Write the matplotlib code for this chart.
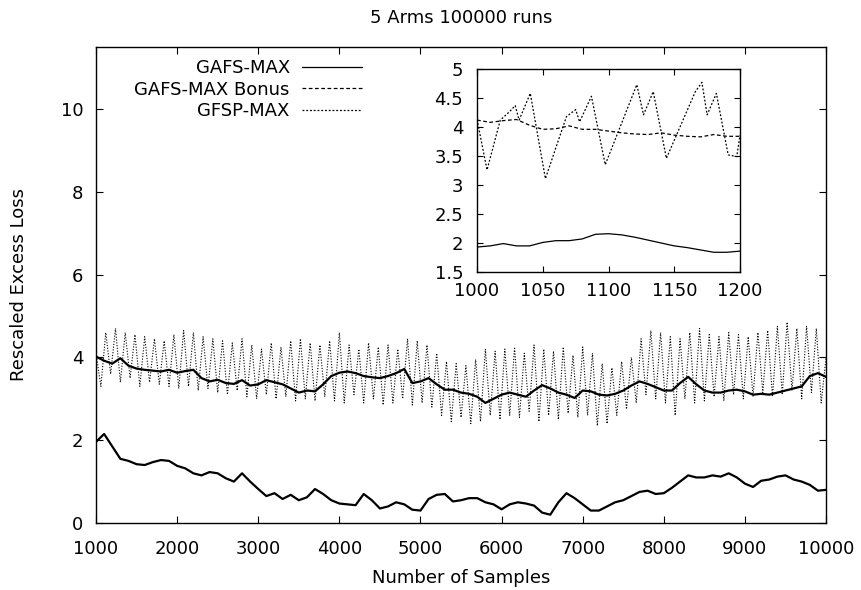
import numpy as np
import matplotlib
matplotlib.use("Agg")
import matplotlib.pyplot as plt

plt.rcParams.update({
    "font.family": ["DejaVu Sans"],
    "font.size": 13,
    "axes.linewidth": 1.0,
})

# ---- main plot data ----
samples = np.arange(1000, 10001, 100)
gafs_max = [1.96, 2.15, 1.85, 1.55, 1.50, 1.42, 1.40, 1.47, 1.52, 1.50,
            1.38, 1.32, 1.20, 1.15, 1.23, 1.20, 1.08, 1.00, 1.20, 1.00,
            0.82, 0.65, 0.72, 0.58, 0.68, 0.55, 0.62, 0.82, 0.70, 0.55,
            0.47, 0.45, 0.43, 0.70, 0.55, 0.35, 0.40, 0.50, 0.45, 0.32,
            0.30, 0.58, 0.68, 0.70, 0.52, 0.55, 0.60, 0.60, 0.50, 0.45,
            0.33, 0.45, 0.50, 0.47, 0.42, 0.25, 0.20, 0.50, 0.72, 0.60,
            0.45, 0.30, 0.30, 0.40, 0.50, 0.55, 0.65, 0.75, 0.78, 0.70,
            0.72, 0.85, 1.00, 1.15, 1.10, 1.10, 1.15, 1.12, 1.20, 1.10,
            0.95, 0.87, 1.02, 1.05, 1.12, 1.15, 1.05, 1.00, 0.92, 0.78,
            0.80]
gafs_bonus = [4.02, 3.92, 3.85, 3.98, 3.80, 3.73, 3.70, 3.68, 3.66, 3.70,
              3.63, 3.67, 3.70, 3.50, 3.42, 3.46, 3.38, 3.36, 3.45, 3.32,
              3.35, 3.45, 3.40, 3.35, 3.25, 3.15, 3.20, 3.18, 3.35, 3.55,
              3.63, 3.66, 3.62, 3.55, 3.52, 3.50, 3.55, 3.62, 3.72, 3.38,
              3.42, 3.50, 3.35, 3.22, 3.22, 3.15, 3.12, 3.05, 2.90, 3.00,
              3.10, 3.15, 3.10, 3.05, 3.20, 3.33, 3.25, 3.15, 3.10, 3.02,
              3.20, 3.18, 3.10, 3.08, 3.12, 3.20, 3.32, 3.42, 3.36, 3.28,
              3.20, 3.20, 3.38, 3.53, 3.35, 3.20, 3.15, 3.15, 3.20, 3.22,
              3.18, 3.10, 3.12, 3.10, 3.15, 3.20, 3.25, 3.30, 3.55, 3.62,
              3.53]

gfsp_samples = np.arange(1000, 10001, 60)
gfsp_max = [4.10, 3.30, 4.60, 3.60, 4.70, 3.40, 4.60, 3.50, 4.55, 3.30,
            4.50, 3.40, 4.45, 3.35, 4.40, 3.30, 4.55, 3.25, 4.65, 3.30,
            4.60, 3.20, 4.50, 3.25, 4.45, 3.15, 4.40, 3.10, 4.35, 3.20,
            4.45, 3.05, 4.30, 3.00, 4.20, 3.10, 4.35, 3.00, 4.25, 3.05,
            4.40, 2.95, 4.45, 3.00, 4.35, 2.95, 4.30, 3.05, 4.40, 2.95,
            4.60, 2.90, 4.30, 3.10, 4.20, 2.90, 4.35, 3.00, 4.25, 2.85,
            4.30, 2.90, 4.20, 3.00, 4.45, 2.85, 4.40, 2.90, 4.30, 2.80,
            4.10, 2.60, 3.90, 2.45, 3.85, 2.55, 3.80, 2.40, 3.95, 2.45,
            4.20, 2.60, 4.15, 2.50, 4.20, 2.60, 4.25, 2.55, 4.10, 2.70,
            4.30, 2.45, 4.20, 2.60, 4.15, 2.50, 4.25, 2.65, 4.05, 2.55,
            4.25, 2.60, 4.10, 2.35, 3.85, 2.40, 3.75, 2.60, 3.90, 2.75,
            4.00, 2.90, 4.45, 3.10, 4.65, 3.00, 4.60, 2.90, 4.50, 2.60,
            4.45, 3.00, 4.60, 2.90, 4.70, 2.95, 4.55, 3.05, 4.50, 2.95,
            4.60, 3.10, 4.55, 3.00, 4.50, 3.05, 4.60, 3.15, 4.65, 3.05,
            4.75, 3.10, 4.85, 3.20, 4.70, 3.00, 4.75, 3.15, 4.70, 2.90,
            4.00]

# ---- inset data (first 200 samples) ----
inset_samples = np.arange(1000, 1201, 10)
inset_gafs = [1.93, 1.95, 1.99, 1.95, 1.95, 2.01, 2.04, 2.04, 2.07, 2.15,
              2.16, 2.14, 2.10, 2.05, 2.00, 1.95, 1.92, 1.88, 1.84, 1.84,
              1.86]
inset_bonus = [4.12, 4.08, 4.11, 4.13, 4.03, 3.96, 3.97, 4.02, 3.96, 3.96,
               3.93, 3.90, 3.88, 3.87, 3.90, 3.86, 3.84, 3.83, 3.87, 3.84,
               3.84]
inset_gfsp_x = [1000, 1007.6, 1017.7, 1025, 1029, 1032, 1040.5, 1052, 1068,
                1075, 1078, 1087, 1097.5, 1121.5, 1126.6, 1134, 1144, 1166,
                1171, 1175, 1182, 1191, 1197.5, 1200]
inset_gfsp = [4.13, 3.26, 4.12, 4.27, 4.37, 4.12, 4.58, 3.11, 4.18,
              4.30, 4.09, 4.53, 3.35, 4.73, 4.21, 4.61, 3.46, 4.61,
              4.77, 4.21, 4.58, 3.52, 3.49, 3.86]

fig = plt.figure(figsize=(8.62, 5.90), dpi=100)
ax = fig.add_axes([0.1114, 0.1136, 0.8469, 0.8068])

ax.plot(samples, gafs_max, color="black", linewidth=1.6)
ax.plot(samples, gafs_bonus, color="black", linewidth=1.6)
ax.plot(gfsp_samples, gfsp_max, color="black", linewidth=0.8, linestyle=(0, (1, 1.5)))

ax.set_xlim(1000, 10000)
ax.set_ylim(0, 11.5)
ax.set_xticks(np.arange(1000, 10001, 1000))
ax.set_yticks(np.arange(0, 11, 2))
ax.tick_params(direction="in", length=5, width=0.8, top=True, right=True)
ax.tick_params(axis="x", pad=12)
ax.tick_params(axis="y", pad=9)
ax.set_xlabel("Number of Samples")
ax.set_ylabel("Rescaled Excess Loss")
ax.xaxis.set_label_coords(0.5, -0.097)
ax.yaxis.set_label_coords(-0.093, 0.5)
fig.text(0.535, 1 - 18 / 590, "5 Arms 100000 runs", ha="center", va="center")

# ---- inset ----
axi = fig.add_axes([0.5534, 0.539, 0.3051, 0.344])
axi.set_facecolor("white")
l1, = axi.plot(inset_samples, inset_gafs, color="black", linewidth=0.9)
l2, = axi.plot(inset_samples, inset_bonus, color="black", linewidth=0.9,
               linestyle=(0, (3, 2)))
l3, = axi.plot(inset_gfsp_x, inset_gfsp, color="black", linewidth=0.9,
               linestyle=(0, (1.5, 1.5)))
axi.set_xlim(1000, 1200)
axi.set_ylim(1.5, 5)
axi.set_xticks(np.arange(1000, 1201, 50))
axi.set_yticks(np.arange(1.5, 5.01, 0.5))
axi.set_yticklabels(["1.5", "2", "2.5", "3", "3.5", "4", "4.5", "5"])
axi.tick_params(direction="in", length=4, width=0.8, top=True, right=True)
axi.tick_params(axis="x", pad=7)
axi.tick_params(axis="y", pad=10)

ax.legend([l1, l2, l3], ["GAFS-MAX", "GAFS-MAX Bonus", "GFSP-MAX"],
          loc="upper right", bbox_to_anchor=(362 / 862, 1 - 59 / 590),
          bbox_transform=fig.transFigure, frameon=False, markerfirst=False,
          handlelength=3.3, handletextpad=0.7, labelspacing=0.2,
          borderpad=0, borderaxespad=0)

fig.savefig("out.png", dpi=100)
